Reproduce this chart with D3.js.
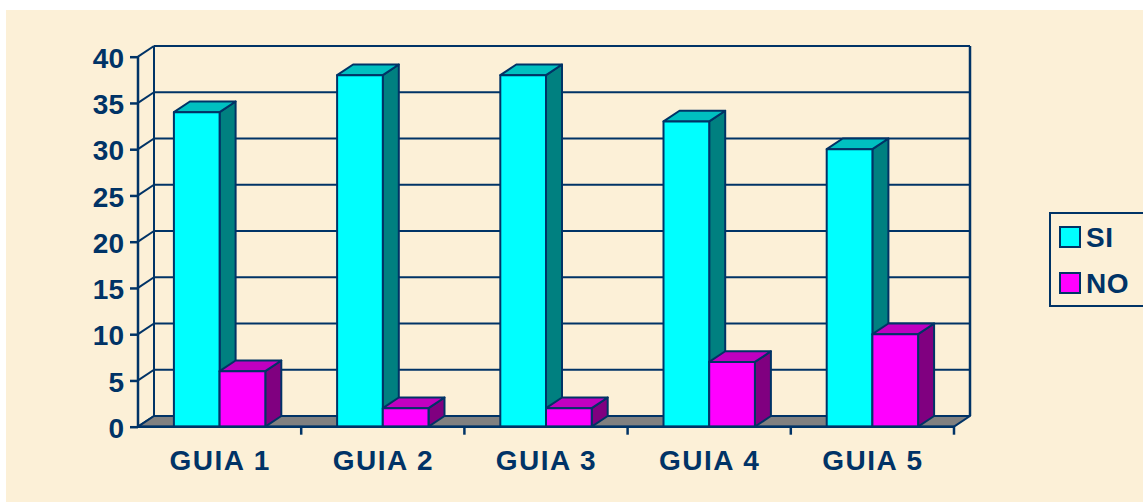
<!DOCTYPE html>
<html><head><meta charset="utf-8">
<script src="https://cdn.jsdelivr.net/npm/d3@7/dist/d3.min.js"></script>
<style>html,body{margin:0;padding:0;background:#fff;overflow:hidden}svg{display:block}</style>
</head><body>
<script>
const categories = ["GUIA 1","GUIA 2","GUIA 3","GUIA 4","GUIA 5"];
const seriesNames = ["SI","NO"];
const siValues = [34,38,38,33,30];
const noValues = [6,2,2,7,10];
const yTicks = [0,5,10,15,20,25,30,35,40];

const W=1143,H=502;
const navy="#003366";
const font="Liberation Sans, Arial, sans-serif";
const colors={SI:{front:"#00FFFF",top:"#00C0C0",side:"#008080"},NO:{front:"#FF00FF",top:"#C000C0",side:"#800080"}};
const dx=16, dy=-10.7;

const svg=d3.select("body").append("svg").attr("width",W).attr("height",H);
svg.append("rect").attr("x",6).attr("y",10).attr("width",W-6).attr("height",H-10).attr("fill","#FCF0D7");

const y=d3.scaleLinear().domain([0,40]).range([426.7,56.7]);
const x=d3.scaleBand().domain(categories).range([138,954]).paddingInner(0.44).paddingOuter(0.22);
const xs=d3.scaleBand().domain(seriesNames).range([0,x.bandwidth()]);

const x0=138,x1=954;
const g=svg.append("g");
yTicks.forEach(v=>{
  if(v>0) g.append("line").attr("x1",x0+dx).attr("x2",x1+dx).attr("y1",y(v)+dy).attr("y2",y(v)+dy).attr("stroke",navy).attr("stroke-width",2);
  g.append("line").attr("x1",x0).attr("y1",y(v)).attr("x2",x0+dx).attr("y2",y(v)+dy).attr("stroke",navy).attr("stroke-width",2);
});
g.append("line").attr("x1",x0+dx).attr("x2",x0+dx).attr("y1",y(0)+dy).attr("y2",y(40)+dy).attr("stroke",navy).attr("stroke-width",2);
g.append("line").attr("x1",x1+dx).attr("x2",x1+dx).attr("y1",y(0)+dy).attr("y2",y(40)+dy).attr("stroke",navy).attr("stroke-width",2.5);
g.append("path").attr("d",`M${x0},${y(0)}L${x1},${y(0)}L${x1+dx},${y(0)+dy}L${x0+dx},${y(0)+dy}Z`)
  .attr("fill","#808080").attr("stroke",navy).attr("stroke-width",2).attr("stroke-linejoin","round");

const data=[];
categories.forEach((c,i)=>{data.push({c,s:"SI",v:siValues[i]});data.push({c,s:"NO",v:noValues[i]});});
data.forEach(d=>{
  const bx=x(d.c)+xs(d.s), bw=xs.bandwidth(), by=y(d.v), b0=y(0);
  const col=colors[d.s];
  const bg=g.append("g").attr("stroke",navy).attr("stroke-width",2).attr("stroke-linejoin","round");
  bg.append("path").attr("d",`M${bx+bw},${b0}L${bx+bw+dx},${b0+dy}L${bx+bw+dx},${by+dy}L${bx+bw},${by}Z`).attr("fill",col.side);
  bg.append("path").attr("d",`M${bx},${by}L${bx+dx},${by+dy}L${bx+bw+dx},${by+dy}L${bx+bw},${by}Z`).attr("fill",col.top);
  bg.append("rect").attr("x",bx).attr("y",by).attr("width",bw).attr("height",b0-by).attr("fill",col.front);
});

const yAxis=d3.axisLeft(y).tickValues(yTicks).tickSize(8).tickPadding(6);
const ya=svg.append("g").attr("transform",`translate(${x0},0)`).call(yAxis);
ya.select(".domain").attr("stroke",navy).attr("stroke-width",2.5).attr("d",`M0,${y(40)}V${y(0)}`);
ya.selectAll(".tick line").attr("stroke",navy).attr("stroke-width",2.5);
ya.selectAll("text").attr("fill",navy).attr("font-family",font).attr("font-weight","bold").attr("font-size",28).attr("dy","0.38em");

const xEdge=d3.scaleLinear().domain([0,categories.length]).range([x0,x1]);
const xa=svg.append("g");
xa.append("line").attr("x1",x0).attr("x2",x1).attr("y1",y(0)).attr("y2",y(0)).attr("stroke",navy).attr("stroke-width",2.5);
d3.range(1,categories.length+1).forEach(k=>{
  xa.append("line").attr("x1",xEdge(k)).attr("x2",xEdge(k)).attr("y1",y(0)).attr("y2",y(0)+8).attr("stroke",navy).attr("stroke-width",2.5);
});
xa.selectAll("text.cat").data(categories).enter().append("text")
  .attr("x",d=>x(d)+x.bandwidth()/2+0.5).attr("y",470).attr("text-anchor","middle")
  .attr("fill",navy).attr("font-family",font).attr("font-weight","bold").attr("font-size",28).attr("letter-spacing",1.5).text(d=>d);

const lg=svg.append("g");
lg.append("rect").attr("x",1050).attr("y",213).attr("width",110).attr("height",93).attr("fill","none").attr("stroke",navy).attr("stroke-width",2);
seriesNames.forEach((s,i)=>{
  const yy=227+i*46;
  lg.append("rect").attr("x",1060).attr("y",yy).attr("width",20).attr("height",20).attr("fill",colors[s].front).attr("stroke",navy).attr("stroke-width",2);
  lg.append("text").attr("x",1086).attr("y",yy+20).attr("fill",navy).attr("font-family",font).attr("font-weight","bold").attr("font-size",28).attr("letter-spacing",0.5).text(s);
});
</script>
</body></html>
